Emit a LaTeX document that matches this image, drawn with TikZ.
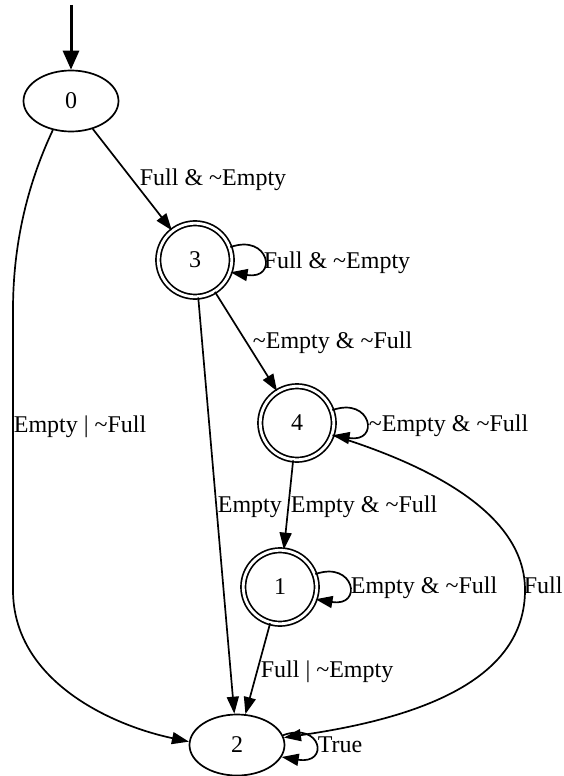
\documentclass[tikz,border=0pt]{standalone}
\usepackage{fontspec}
\setmainfont{Liberation Serif}
\usepackage{tikz}
\usetikzlibrary{positioning}
\usetikzlibrary{arrows.meta,shapes.geometric}

\begin{document}
\begin{tikzpicture}
[x=1pt, y=-1pt, line width=1.7pt, >={Triangle[length=17pt,width=12pt]},
 plain/.style={draw, ellipse, minimum width=95pt, minimum height=61pt, inner sep=0pt, font=\fontsize{24}{28}\selectfont},
 accept/.style={draw, circle, double, double distance=2.8pt, minimum size=73.5pt, inner sep=0pt, font=\fontsize{24}{28}\selectfont},
 lbl/.style={anchor=base west, inner sep=0pt, font=\fontsize{24}{28}\selectfont}]

\useasboundingbox (0,0) rectangle (563,776);

% States:
\node[plain]  (n0) at (71,101) {0};
\node[accept] (n3) at (195,260) {3};
\node[accept] (n4) at (297,423) {4};
\node[accept] (n1) at (280,587) {1};
\node[plain]  (n2) at (237,745) {2};

% Initial arrow:
\coordinate (start) at (71,5);
\draw[->, line width=3pt, >={Triangle[length=19pt,width=16pt]}] (start) -- (n0);

% Transitions:
\draw[->] (n0) -- (n3);
\draw[->] (n3) -- (n4);
\draw[->] (n4) -- (n1);
\draw[->] (n1) -- (n2);
\draw[->] (n3) -- (n2);
\draw[->] (n0.-122) .. controls (27,185) and (13,245) .. (13,310)
  -- (13,590) .. controls (13,680) and (110,725) .. (n2.176);
\draw[->] (n4.-19) .. controls (445,470) and (525,520) .. (525,590)
  .. controls (525,680) and (420,718) .. (n2.9);

% Self loops:
\draw[->] (n3.20) .. controls +(39,-14) and +(48,8) .. (n3.-19);
\draw[->] (n4.20) .. controls +(39,-14) and +(48,8) .. (n4.-19);
\draw[->] (n1.20) .. controls +(39,-14) and +(48,8) .. (n1.-19);
\draw[->] (n2.12) .. controls +(39,-14) and +(48,8) .. (n2.-15);

% Labels:
\node[lbl] (l03) at (139,185) {Full \& \textasciitilde Empty};
\node[lbl] (l33) at (263,268) {Full \& \textasciitilde Empty};
\node[lbl] (l34) at (252,348) {\textasciitilde Empty \& \textasciitilde Full};
\node[lbl] (l44) at (368,431) {\textasciitilde Empty \& \textasciitilde Full};
\node[lbl] (l02) at (13,432)  {Empty \textbar\ \textasciitilde Full};
\node[lbl] (l32) at (217,512) {Empty};
\node[lbl] (l41) at (290,512) {Empty \& \textasciitilde Full};
\node[lbl] (l11) at (350,593) {Empty \& \textasciitilde Full};
\node[lbl] (l42) at (523,593) {Full};
\node[lbl] (l12) at (260,677) {Full \textbar\ \textasciitilde Empty};
\node[lbl] (l22) at (317,752) {True};

\end{tikzpicture}
\end{document}
